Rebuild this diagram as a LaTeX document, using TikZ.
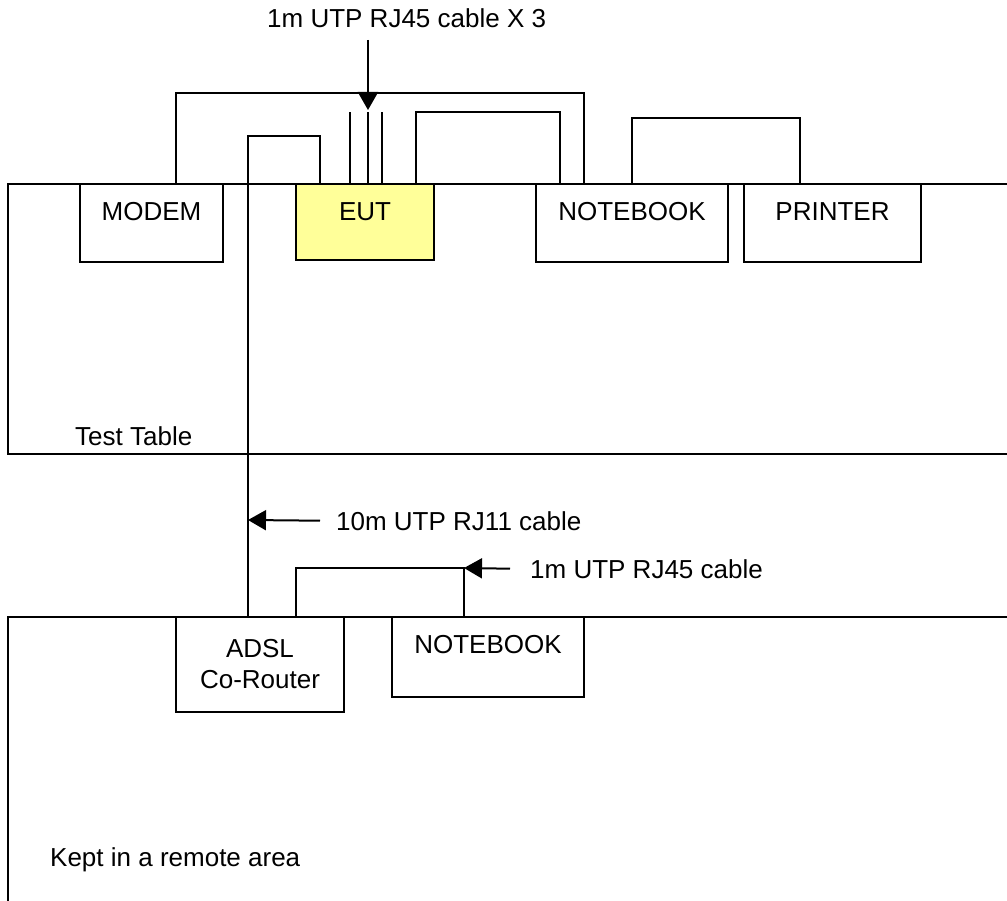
\documentclass[tikz,border=0pt]{standalone}
\usepackage{fontspec}
\setmainfont{Liberation Sans}
\usetikzlibrary{positioning,arrows.meta}
\definecolor{eutyellow}{HTML}{FFFF99}
\tikzstyle{dev} = [rectangle, draw=black, line width=2pt, inner sep=0pt, outer sep=0pt, anchor=north west]
\tikzstyle{box} = [dev, text height=37pt, text depth=41pt]
\tikzstyle{cable} = [line width=2pt]
\tikzstyle{arrow} = [line width=2pt, -{Triangle[length=18pt,width=20pt]}]
\tikzstyle{lbl} = [inner sep=0pt, anchor=base west]

\begin{document}
\begin{tikzpicture}[x=1pt, y=-1pt, font=\fontsize{26}{31}\selectfont]
    \useasboundingbox (0,0) rectangle (1007,901);
    % test table and remote area
    \draw[cable] (1007,184) -- (8,184) -- (8,454) -- (1007,454);
    \draw[cable] (1007,617) -- (8,617) -- (8,901);
    \node (tt) [lbl] at (75,445) {Test Table};
    \node (ra) [lbl] at (50,866) {Kept in a remote area};

    \node (modem) [box, minimum width=143pt] at (80,184) {MODEM};
    \node (eut) [box, fill=eutyellow, minimum width=138pt, text depth=39pt, right=73pt of modem.north east, anchor=north west] {EUT};
    \node (nbook) [box, minimum width=192pt, right=102pt of eut.north east, anchor=north west] {NOTEBOOK};
    \node (printer) [box, minimum width=177pt, right=16pt of nbook.north east, anchor=north west] {PRINTER};
    \node (adsl) [dev, align=center, minimum width=168pt, minimum height=95pt] at (176,617) {ADSL\\Co-Router};
    \node (remnb) [box, minimum width=192pt, text height=36pt, text depth=44pt, right=48pt of adsl.north east, anchor=north west] {NOTEBOOK};

    \draw[cable] ([xshift=96pt]modem.north west) -- ++(0,-91) -| ([xshift=48pt]nbook.north west);
    \draw[cable] ([xshift=120pt]eut.north west) -- ++(0,-72) -| ([xshift=24pt]nbook.north west);
    \draw[cable] ([xshift=24pt]eut.north west) -- ++(0,-48) -| ([xshift=72pt]adsl.north west);
    \foreach \dx in {54,72,86}
        \draw[cable] ([xshift=\dx pt]eut.north west) -- ++(0,-72);
    \draw[cable] ([xshift=96pt]nbook.north west) -- ++(0,-66) -| ([xshift=56pt]printer.north west);
    \draw[cable] ([xshift=120pt]adsl.north west) -- ++(0,-49) -| ([xshift=72pt]remnb.north west);

    % cable labels
    \node (lab3) [lbl] at (267,28) {1m UTP RJ45 cable X 3};
    \coordinate (c3) at ([xshift=72pt, yshift=144pt]eut.north west);
    \draw[arrow] (c3) -- ([xshift=72pt, yshift=74pt]eut.north west);
    \node (lab11) [lbl] at (336,530) {10m UTP RJ11 cable};
    \coordinate (t11) at (248,520);
    \draw[arrow] ([xshift=-16pt]lab11.west) -- (t11);
    \node (lab45) [lbl] at (530,578) {1m UTP RJ45 cable};
    \coordinate (t45) at ([xshift=72pt, yshift=49pt]remnb.north west);
    \draw[arrow] ([xshift=-20pt]lab45.west) -- (t45);
\end{tikzpicture}
\end{document}
